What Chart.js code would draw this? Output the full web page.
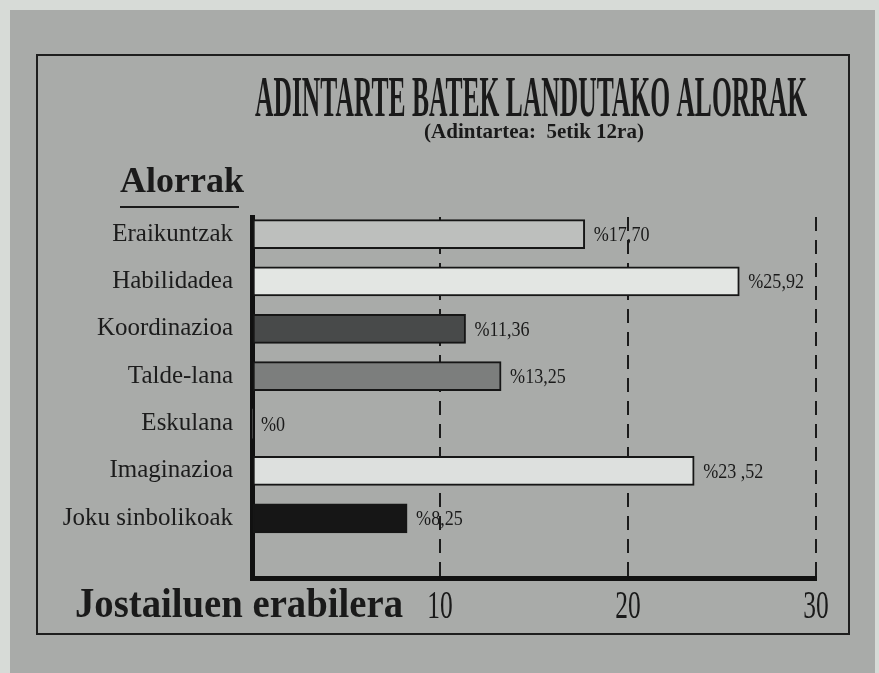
<!DOCTYPE html>
<html>
<head>
<meta charset="utf-8">
<script src="https://cdn.jsdelivr.net/npm/chart.js@4.4.0/dist/chart.umd.min.js"></script>
<style>
  html, body { margin: 0; padding: 0; background: #d7dbd7; }
  #wrap { width: 879px; height: 673px; position: relative; }
</style>
</head>
<body>
<div id="wrap"><canvas id="alorrakChart"></canvas></div>
<script>
const categories = ['Eraikuntzak', 'Habilidadea', 'Koordinazioa', 'Talde-lana', 'Eskulana', 'Imaginazioa', 'Joku sinbolikoak'];
const values = [17.70, 25.92, 11.36, 13.25, 0, 23.52, 8.25];
const valueLabels = ['%17,70', '%25,92', '%11,36', '%13,25', '%0', '%23 ,52', '%8,25'];
const barColors = ['#bdbfbd', '#e3e6e3', '#484a4a', '#7c7e7d', '#a9aba9', '#dde0de', '#161616'];
const xTickValues = [10, 20, 30];

const SERIF = '"Liberation Serif", "Times New Roman", serif';
const INK = '#1a1a1a';
const Y_MIN = -0.36, Y_MAX = 7.26;

// draw text squeezed horizontally (the original uses a condensed face)
function squeezed(ctx, text, x, y, font, sx, align) {
    ctx.save();
    ctx.font = font;
    ctx.fillStyle = INK;
    ctx.textAlign = align || 'left';
    ctx.textBaseline = 'alphabetic';
    ctx.translate(x, y);
    ctx.scale(sx, 1);
    ctx.fillText(text, 0, 0);
    ctx.restore();
}

function fitted(ctx, text, x, y, font, width) {
    ctx.save();
    ctx.font = font;
    const w = ctx.measureText(text).width;
    ctx.restore();
    squeezed(ctx, text, x, y, font, width / w, 'left');
}

const decor = {
    id: 'decor',
    beforeDraw(chart) {
        const ctx = chart.ctx;
        ctx.save();
        ctx.fillStyle = '#d7dbd7';
        ctx.fillRect(0, 0, chart.width, chart.height);
        ctx.fillStyle = '#a9aba9';
        ctx.fillRect(10, 10, 865, chart.height - 10);
        ctx.strokeStyle = '#1e1e1e';
        ctx.lineWidth = 2;
        ctx.strokeRect(37, 55, 812, 579);
        ctx.restore();
    },
    afterDatasetsDraw(chart) {
        const ctx = chart.ctx;
        const meta = chart.getDatasetMeta(0);
        meta.data.forEach((bar, i) => {
            squeezed(ctx, valueLabels[i], bar.x + 9, bar.y + 7, '21px ' + SERIF, 0.86, 'left');
        });
    },
    afterDraw(chart) {
        const ctx = chart.ctx;
        const xs = chart.scales.x;

        fitted(ctx, 'ADINTARTE BATEK LANDUTAKO ALORRAK', 255, 116, 'bold 58px ' + SERIF, 552);
        squeezed(ctx, '(Adintartea:  5etik 12ra)', 534, 138, 'bold 21px ' + SERIF, 1, 'center');

        squeezed(ctx, 'Alorrak', 120, 192, 'bold 36px ' + SERIF, 1, 'left');
        ctx.save();
        ctx.strokeStyle = INK;
        ctx.lineWidth = 2;
        ctx.beginPath();
        ctx.moveTo(120, 207);
        ctx.lineTo(239, 207);
        ctx.stroke();
        ctx.restore();

        fitted(ctx, 'Jostailuen erabilera', 75, 617, 'bold 42px ' + SERIF, 328);

        xTickValues.forEach(v => {
            squeezed(ctx, String(v), xs.getPixelForValue(v), 618, '41px ' + SERIF, 0.62, 'center');
        });
    }
};

const ctx = document.getElementById('alorrakChart').getContext('2d');

const alorrakChart = new Chart(ctx, {
    type: 'bar',
    data: {
        labels: categories,
        datasets: [{
            data: values.map((v, i) => ({ x: v, y: i })),
            backgroundColor: barColors,
            borderColor: '#161616',
            borderWidth: values.map(v => v ? 2 : 0),
            borderSkipped: false,
            barThickness: 29
        }]
    },
    options: {
        indexAxis: 'y',
        responsive: true,
        maintainAspectRatio: false,
        animation: false,
        layout: { padding: { left: 0, right: 63, top: 217, bottom: 0 } },
        plugins: {
            legend: { display: false },
            title: { display: false },
            tooltip: { enabled: false }
        },
        scales: {
            x: {
                type: 'linear',
                min: 0,
                max: 30,
                z: 1,
                ticks: { stepSize: 10, display: false },
                grid: {
                    drawTicks: false,
                    lineWidth: 2,
                    color: c => (c.tick && c.tick.value === 0) ? 'rgba(0,0,0,0)' : '#1b1b1b'
                },
                border: { display: true, width: 5, color: '#111111', dash: [14, 9] },
                afterFit: s => { s.height = 95; }
            },
            y: {
                type: 'linear',
                reverse: true,
                offset: false,
                bounds: 'data',
                min: Y_MIN,
                max: Y_MAX,
                z: 1,
                afterBuildTicks: s => {
                    s.ticks = categories.map((c, i) => ({ value: i }));
                },
                ticks: {
                    callback: v => categories[v] || '',
                    padding: 19,
                    color: '#1c1c1c',
                    font: { family: SERIF, size: 25 }
                },
                grid: { display: false, drawTicks: false, offset: false },
                border: { display: true, width: 5, color: '#111111' },
                afterFit: s => { s.width = 252; }
            }
        }
    },
    plugins: [decor]
});
</script>
</body>
</html>
